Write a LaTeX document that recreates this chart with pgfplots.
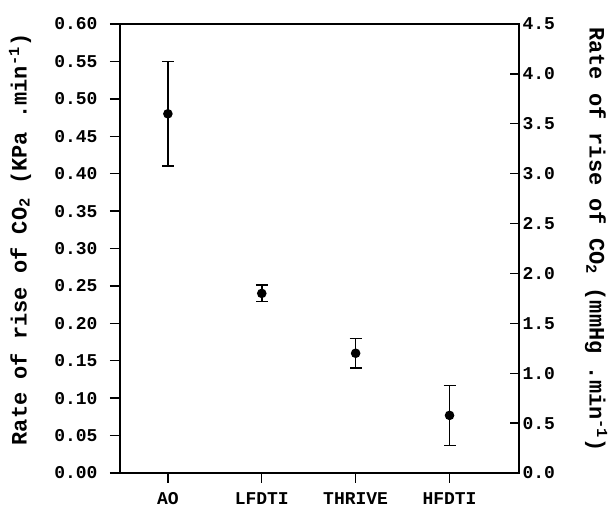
\documentclass[border=0pt]{standalone}
\usepackage{fontspec}
\setmainfont{Liberation Mono}
\usepackage{pgfplots}
\pgfplotsset{compat=1.18}
\newcommand{\lf}{\fontsize{18}{21}\selectfont\bfseries}
\newcommand{\lb}{\fontsize{22}{25}\selectfont\bfseries}
\begin{document}
\begin{tikzpicture}
\useasboundingbox (-120pt,-37pt) rectangle (489pt,473pt);
\begin{axis}[
  scale only axis,
  width=399pt, height=449pt,
  xmin=-0.51, xmax=3.74,
  ymin=0, ymax=0.60,
  xtick={0,1,2,3},
  xticklabels={AO,LFDTI,THRIVE,HFDTI},
  ytick={0,0.05,...,0.61},
  xtick pos=lower, ytick pos=lower,
  tick align=outside,
  major tick length=10pt,
  axis line style={line width=1.4pt},
  every tick/.style={line width=1.4pt, black},
  /pgf/number format/assume math mode=true,
  yticklabel style={/pgf/number format/fixed, /pgf/number format/precision=2, /pgf/number format/fixed zerofill, font=\lf},
  xticklabel style={font=\lf, inner sep=1pt},
  yticklabel shift=9pt,
  xticklabel shift=8pt,
  ylabel={Rate of rise of CO\textsubscript{2} (KPa .min\textsuperscript{-1})},
  ylabel style={font=\lb, at={(axis description cs:0,0.52)}, anchor=center, yshift=100pt, inner sep=0pt},
]
\addplot[black, line width=1.5pt, only marks, mark=*, mark size=4pt,
  error bars/.cd, y dir=both, y explicit,
  error bar style={line width=1.5pt, black},
  error mark options={rotate=90, mark size=6pt, line width=1.5pt, black}]
  table[x=x, y=y, y error=e] {
x y e
0 0.480 0.070
1 0.240 0.011
2 0.160 0.020
3 0.077 0.040
};
\end{axis}
\begin{axis}[
  scale only axis,
  width=399pt, height=449pt,
  xmin=-0.51, xmax=3.74,
  ymin=0, ymax=4.5,
  axis x line=none,
  axis y line*=right,
  ytick={0,0.5,...,4.6},
  tick align=inside,
  major tick length=9pt,
  axis line style={line width=1.4pt},
  every tick/.style={line width=1.4pt, black},
  /pgf/number format/assume math mode=true,
  yticklabel style={/pgf/number format/fixed, /pgf/number format/precision=1, /pgf/number format/fixed zerofill, font=\lf},
  ylabel={Rate of rise of CO\textsubscript{2} (mmHg .min\textsuperscript{-1})},
  ylabel style={font=\lb, at={(axis description cs:1,0.52)}, anchor=center, rotate=180, yshift=77pt, inner sep=0pt},
]
\end{axis}
\end{tikzpicture}
\end{document}
